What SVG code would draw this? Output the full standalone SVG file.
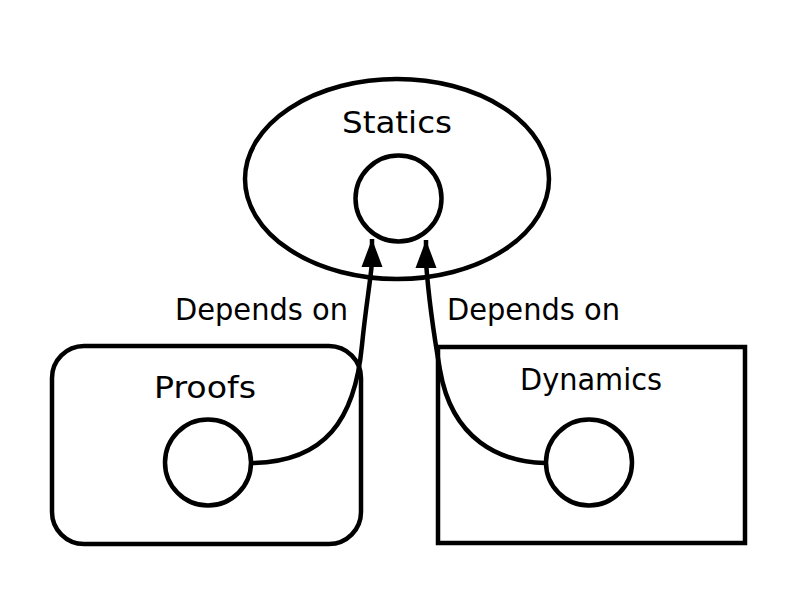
<svg xmlns="http://www.w3.org/2000/svg" width="800" height="605" viewBox="0 0 800 605">
<style>
.shape{fill:none;stroke:#000;stroke-width:4.5}
.lbl{font-family:"DejaVu Sans","Liberation Sans",sans-serif;font-size:30px;fill:#000}
.conn{fill:none;stroke:#000;stroke-width:4.5}
</style>
<defs>
<marker id="arr" markerUnits="userSpaceOnUse" markerWidth="30" markerHeight="24" viewBox="0 0 30 24" refX="28" refY="11" orient="auto">
<path d="M0,0.5 L28,11 L0,21.5 Z" fill="#000"/>
</marker>
</defs>
<rect width="800" height="605" fill="#fff"/>
<g id="statics">
<ellipse class="shape" cx="397" cy="179" rx="152" ry="100"/>
<text class="lbl" x="342" y="133" textLength="110" lengthAdjust="spacingAndGlyphs">Statics</text>
<circle class="shape" cx="398.5" cy="198.5" r="43"/>
</g>
<g id="proofs">
<rect class="shape" x="52" y="346" width="309" height="198" rx="32" ry="32"/>
<text class="lbl" x="154" y="398" textLength="102" lengthAdjust="spacingAndGlyphs">Proofs</text>
<circle class="shape" cx="208" cy="462.5" r="43"/>
</g>
<g id="dynamics">
<rect class="shape" x="438" y="347" width="307" height="196"/>
<text class="lbl" x="520" y="390" textLength="142" lengthAdjust="spacingAndGlyphs">Dynamics</text>
<circle class="shape" cx="589" cy="462.5" r="43"/>
</g>
<g id="connectors">
<path class="conn" d="M252,463 C325,462 355,420 362,345 C366,305 370,285 372,262 L372,239" marker-end="url(#arr)"/>
<path class="conn" d="M545,463 C500,462 452,440 440,370 C433,330 428,290 426,262 L426,240" marker-end="url(#arr)"/>
<text class="lbl" x="175" y="320" textLength="173" lengthAdjust="spacingAndGlyphs">Depends on</text>
<text class="lbl" x="447" y="320" textLength="173" lengthAdjust="spacingAndGlyphs">Depends on</text>
</g>
</svg>
